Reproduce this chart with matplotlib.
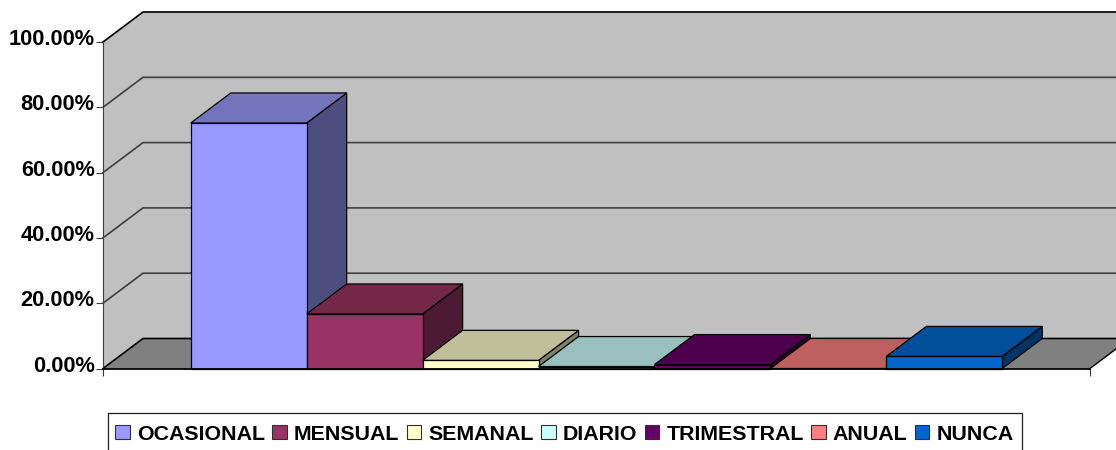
import matplotlib
matplotlib.use('Agg')
import matplotlib.pyplot as plt
from matplotlib.patches import Polygon, Patch, Rectangle
from matplotlib.transforms import ScaledTranslation

plt.rcParams['font.family'] = ['Liberation Sans', 'DejaVu Sans']

# values
categories = ['OCASIONAL', 'MENSUAL', 'SEMANAL', 'DIARIO', 'TRIMESTRAL', 'ANUAL', 'NUNCA']
values = [75.2, 16.7, 2.5, 0.6, 1.2, 0.0, 3.7]
y_ticks = [0, 20, 40, 60, 80, 100]

front_colors = ['#9999FF', '#993366', '#FFFFCC', '#CCFFFF', '#660066', '#FF8080', '#0066CC']
top_colors = ['#7474BB', '#73284A', '#BFBF99', '#99BFBF', '#4D004D', '#BF6060', '#004D99']
side_colors = ['#4D4D7F', '#4D1A33', '#80806A', '#668080', '#330033', '#804040', '#003366']

gap = 0.757
xmin, xmax = -0.5 - gap, 6.5 + gap

W, H = 1116, 450
fig = plt.figure(figsize=(W / 100, H / 100), dpi=100)
ax = fig.add_axes([103 / W, (H - 368.5) / H, 987 / W, 326.5 / H])
ax.set_xlim(xmin, xmax)
ax.set_ylim(0, 100)

# depth of the fake 3d, in data units
dx = 40 / (987 / (xmax - xmin))
dy = 30 / 3.265


def poly(pts, fc, z, ec='none', lw=0.0):
    ax.add_patch(Polygon(pts, closed=True, fc=fc, ec=ec, lw=lw, zorder=z,
                         clip_on=False, joinstyle='miter'))


# walls and floor
poly([(xmin, 0), (xmin + dx, dy), (xmin + dx, 100 + dy), (xmin, 100)], '#C0C0C0', 1)
poly([(xmin + dx, dy), (xmax + dx, dy), (xmax + dx, 100 + dy), (xmin + dx, 100 + dy)], '#C0C0C0', 1)
poly([(xmin, 0), (xmax, 0), (xmax + dx, dy), (xmin + dx, dy)], '#808080', 1)

for t in y_ticks:
    c = 'black' if t in (0, 100) else '#404040'
    ax.plot([xmin, xmin + dx, xmax + dx], [t, t + dy, t + dy], color=c, lw=1.2,
            zorder=2, clip_on=False)
ax.plot([xmax, xmax + dx], [0, dy], color='black', lw=1.0, zorder=2, clip_on=False)

# bars, left to right so each one covers the side of the previous one
for i, v in enumerate(values):
    l, r = i - 0.5, i + 0.5
    if v > 0:
        poly([(r, 0), (r + dx, dy), (r + dx, v + dy), (r, v)], side_colors[i], 3 + i, 'black', 0.9)
        poly([(l, 0), (r, 0), (r, v), (l, v)], front_colors[i], 3 + i, 'black', 0.9)
    poly([(l, v), (r, v), (r + dx, v + dy), (l + dx, v + dy)], top_colors[i], 3 + i, 'black', 0.9)

ax.plot([xmin, xmax], [0, 0], color='black', lw=1.3, zorder=12, clip_on=False)

for s in ['top', 'right', 'bottom']:
    ax.spines[s].set_visible(False)
ax.spines['left'].set_color('#404040')
ax.spines['left'].set_zorder(11)

ax.set_yticks(y_ticks)
ax.set_yticklabels(['%.2f%%' % t for t in y_ticks], fontsize=15.7, fontweight='bold')
ax.tick_params(axis='y', length=5, width=0.8, color='#404040', pad=1)
shift = ScaledTranslation(0, 5 / 100, fig.dpi_scale_trans)
for lab in ax.get_yticklabels():
    lab.set_transform(lab.get_transform() + shift)

ax.set_xticks([xmin, xmax])
ax.set_xticklabels(['', ''])
ax.tick_params(axis='x', length=5, width=0.8, color='#404040')

# legend box runs off the bottom of the picture
fig.add_artist(Rectangle((108 / W, -10 / H), 914 / W, (H - 413 + 10) / H, fc='white',
                         ec='#202020', lw=0.9, transform=fig.transFigure))
handles = [Patch(fc=c, ec='#303030', lw=0.8) for c in front_colors]
leg = fig.legend(handles, categories, loc='center', ncol=7,
                 bbox_to_anchor=(564.5 / W, (H - 434) / H),
                 prop={'size': 15.4, 'weight': 'bold'},
                 frameon=False,
                 handlelength=0.67, handleheight=0.67, handletextpad=0.33,
                 columnspacing=0.36, borderpad=0, borderaxespad=0)

fig.savefig('out.png', dpi=100)
